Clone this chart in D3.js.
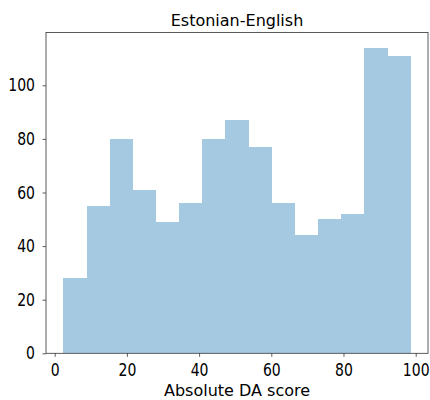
<!DOCTYPE html>
<html>
<head>
<meta charset="utf-8">
<script src="https://cdn.jsdelivr.net/npm/d3@7"></script>
<style>
  body { margin: 0; background: #fff; }
  text { font-family: "DejaVu Sans", sans-serif; fill: #000; }
</style>
</head>
<body>
<script>
// histogram counts, 15 equal bins between binStart and binEnd
var counts = [28, 55, 80, 61, 49, 56, 80, 87, 77, 56, 44, 50, 52, 114, 111];
var binStart = 2.4, binEnd = 98.6;
var xTicks = [0, 20, 40, 60, 80, 100];
var yTicks = [0, 20, 40, 60, 80, 100];
var title = "Estonian-English";
var xLabel = "Absolute DA score";

var W = 430, H = 400;
var margin = {top: 32.5, right: 2, bottom: 46.7, left: 46};
var width = W - margin.left - margin.right;
var height = H - margin.top - margin.bottom;
var squeeze = 0.8; // tick labels look narrow in the original

var step = (binEnd - binStart) / counts.length;
var bins = counts.map(function(c, i) {
  return {x0: binStart + i * step, x1: binStart + (i + 1) * step, n: c};
});

var pad = (binEnd - binStart) * 0.05;
var x = d3.scaleLinear().domain([binStart - pad, binEnd + pad]).range([0, width]);
var y = d3.scaleLinear().domain([0, d3.max(counts) * 1.05]).range([height, 0]);

var svg = d3.select("body").append("svg")
    .attr("width", W)
    .attr("height", H)
  .append("g")
    .attr("transform", "translate(" + margin.left + "," + margin.top + ")");

// bars (tab blue at 40% over white, drawn opaque so no seams show)
svg.selectAll(".bar")
    .data(bins)
  .enter().append("rect")
    .attr("class", "bar")
    .attr("x", function(d) { return x(d.x0); })
    .attr("width", function(d) { return x(d.x1) - x(d.x0) + 0.5; })
    .attr("y", function(d) { return y(d.n); })
    .attr("height", function(d) { return height - y(d.n); })
    .attr("fill", "#a5c9e1")
    .attr("shape-rendering", "crispEdges");

// axes
var xAxis = svg.append("g")
    .attr("transform", "translate(0," + height + ")")
    .call(d3.axisBottom(x).tickValues(xTicks).tickSize(3.5).tickSizeOuter(0));
var yAxis = svg.append("g")
    .call(d3.axisLeft(y).tickValues(yTicks).tickSize(3.5).tickSizeOuter(0));

[xAxis, yAxis].forEach(function(a) {
  a.select(".domain").remove();
  a.selectAll("line").attr("stroke", "#333").attr("stroke-width", 0.8);
  a.selectAll("text").style("font-size", "17.5px").attr("fill", "#000");
});

xAxis.selectAll("text")
    .attr("x", 0).attr("y", 0).attr("dy", 0)
    .attr("transform", "translate(0,22.4) scale(" + squeeze + ",1)");
yAxis.selectAll("text")
    .attr("x", 0)
    .attr("transform", "translate(-11,0) scale(" + squeeze + ",1)");

// frame
svg.append("rect")
    .attr("width", width)
    .attr("height", height)
    .attr("fill", "none")
    .attr("stroke", "#333")
    .attr("stroke-width", 0.8);

svg.append("text")
    .attr("x", width / 2)
    .attr("y", -7)
    .attr("text-anchor", "middle")
    .style("font-size", "16px")
    .text(title);

svg.append("text")
    .attr("x", width / 2)
    .attr("y", height + 42.7)
    .attr("text-anchor", "middle")
    .style("font-size", "16px")
    .text(xLabel);
</script>
</body>
</html>
